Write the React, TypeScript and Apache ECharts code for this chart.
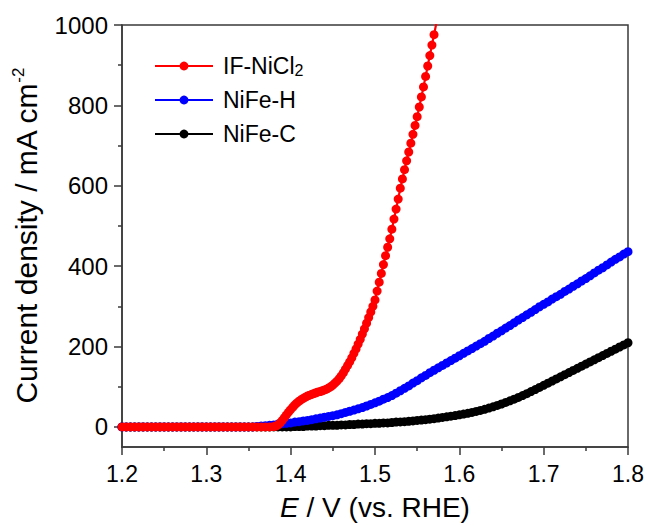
import React, { useEffect, useRef } from "react";
import * as echarts from "echarts";

const FONT = '"Liberation Sans", Arial, sans-serif';

// Potential sweep grid (V vs. RHE), 5 mV steps
const potential: number[] = Array.from({ length: 121 }, (_, i) => +(1.2 + i * 0.005).toFixed(3));

// NiFe-C current density (mA cm-2) on the potential grid
const nifeC: number[] = [
  0, 0, 0, 0, 0, 0, 0, 0, 0, 0,
  0, 0, 0, 0, 0, 0, 0, 0, 0, 0,
  0, 0, 0, 0, 0, 0, 0, 0, 0, 0,
  0, 0, 0, 0, 0, 0, 0, 0, 0, 0,
  0,
  1, 1, 1, 2, 2, 2, 3, 3, 4, 4,
  4, 5, 5, 6, 6, 7, 7, 8, 8, 9,
  9, 10, 10, 11, 12, 12.5, 13, 14, 15, 16,
  17, 18.1, 19.3, 20.6, 22, 23.5, 25, 26.6, 28.3, 30,
  31.8, 33.8, 36, 38.4, 41, 43.8, 46.8, 50, 53.4, 57,
  60.8, 64.8, 69, 73.4, 78, 82.8, 87.8, 92.9, 98.1, 103.4,
  108.7, 114, 119.3, 124.6, 129.9, 135.2, 140.5, 145.8, 151.1, 156.4,
  161.7, 167, 172.3, 177.6, 182.9, 188.2, 193.5, 198.8, 204.1, 209.4,
];

// NiFe-H current density (mA cm-2) on the potential grid
const nifeH: number[] = [
  0, 0, 0, 0, 0, 0, 0, 0, 0, 0,
  0, 0, 0, 0, 0, 0, 0, 0, 0, 0,
  0, 0, 0, 0, 0, 0, 0, 0, 0, 0,
  0, 0,
  1, 2, 3, 4, 5, 7, 8, 9, 10, 12,
  13, 15, 16, 18, 20, 22, 24, 26, 28, 30,
  33, 36, 39, 42, 45, 48, 52, 56, 60, 64,
  69, 73, 78, 84, 90, 96, 102, 109, 115, 122,
  128, 135, 141, 147, 153, 159, 165, 171, 177, 183,
  189, 195, 201, 207, 213, 220, 226, 233, 239, 246,
  252, 259, 266, 272, 279, 285, 292, 299, 305, 311,
  318, 324, 330, 337, 343, 350, 356, 363, 369, 376,
  383, 390, 396, 403, 410, 417, 423, 430, 436,
];

// IF-NiCl2 [potential, current density]
const ifNiCl2: number[][] = [
  [1.2, 0], [1.205, 0], [1.21, 0], [1.215, 0], [1.22, 0], [1.225, 0], [1.23, 0], [1.235, 0], [1.24, 0], [1.245, 0],
  [1.25, 0], [1.255, 0], [1.26, 0], [1.265, 0], [1.27, 0], [1.275, 0], [1.28, 0], [1.285, 0], [1.29, 0], [1.295, 0],
  [1.3, 0], [1.305, 0], [1.31, 0], [1.315, 0], [1.32, 0], [1.325, 0], [1.33, 0], [1.335, 0], [1.34, 0], [1.345, 0],
  [1.35, 0], [1.355, 0], [1.36, 0], [1.365, 0], [1.37, 0], [1.375, 0],
  [1.38, 1], [1.3825, 2], [1.385, 5], [1.3875, 10], [1.39, 16], [1.3925, 23], [1.395, 30], [1.3975, 37],
  [1.4, 43], [1.4025, 49], [1.405, 55], [1.4075, 60], [1.41, 64], [1.4125, 68], [1.415, 71], [1.4175, 74],
  [1.42, 77], [1.4225, 79], [1.425, 81], [1.4275, 83], [1.43, 85], [1.4325, 87], [1.435, 88], [1.4375, 90],
  [1.44, 92], [1.4425, 94], [1.445, 97], [1.4475, 100], [1.45, 104], [1.4525, 109], [1.455, 114], [1.4575, 120],
  [1.46, 127], [1.4625, 135], [1.465, 144], [1.4675, 153], [1.47, 162], [1.4725, 172], [1.475, 183], [1.4775, 194],
  [1.48, 206], [1.4825, 218], [1.485, 231], [1.4875, 244], [1.49, 258], [1.4925, 272], [1.495, 286], [1.4975, 300],
  [1.5, 316], [1.5025, 338], [1.505, 360], [1.5075, 382], [1.51, 404], [1.5125, 426], [1.515, 447], [1.5175, 468],
  [1.52, 492], [1.5225, 517], [1.525, 542], [1.5275, 567], [1.53, 594], [1.5325, 617], [1.535, 640], [1.5375, 662],
  [1.54, 684], [1.5425, 706], [1.545, 728], [1.5475, 750], [1.55, 772], [1.5525, 796], [1.555, 821], [1.5575, 846],
  [1.56, 872], [1.5625, 898], [1.565, 924], [1.5675, 950], [1.57, 976], [1.5725, 1002], [1.575, 1028],
];

const yMajorTicks = [0, 200, 400, 600, 800, 1000];
const yMinorTicks = [100, 300, 500, 700, 900];
const legendNames = ["IF-NiCl2", "NiFe-H", "NiFe-C"];

export default function App() {
  const ref = useRef<HTMLDivElement>(null);

  useEffect(() => {
    if (!ref.current) return;
    const chart = echarts.init(ref.current, null, { renderer: "svg" });
    const axisColor = "#3a3a3a";
    const seriesCommon = {
      type: "line",
      symbol: "circle",
      symbolSize: 9,
      showAllSymbol: true,
      clip: true,
      lineStyle: { width: 2.2 },
    };
    chart.setOption({
      animation: false,
      backgroundColor: "#fff",
      grid: {
        left: 122,
        right: 21,
        top: 25,
        bottom: 75,
        show: true,
        borderColor: axisColor,
        borderWidth: 1.5,
      },
      legend: {
        data: legendNames,
        orient: "vertical",
        left: 154,
        top: 54,
        padding: 0,
        itemWidth: 58,
        itemHeight: 11,
        itemGap: 10,
        formatter: (n: string) => (n === "IF-NiCl2" ? "IF-NiCl{sub|2}" : n),
        textStyle: {
          fontSize: 23,
          fontFamily: FONT,
          color: "#000",
          lineHeight: 24,
          padding: [0, 0, 0, 5],
          rich: {
            sub: { fontSize: 16, fontFamily: FONT, color: "#000", verticalAlign: "bottom", lineHeight: 21 },
          },
        },
      },
      xAxis: [
        {
          type: "value",
          min: 1.2,
          max: 1.8,
          interval: 0.1,
          axisLine: { show: true, onZero: false, lineStyle: { color: axisColor, width: 1.5 } },
          axisTick: { show: true, inside: false, length: 8, lineStyle: { color: axisColor, width: 1.5 } },
          minorTick: { show: true, splitNumber: 2, length: 4, lineStyle: { color: axisColor, width: 1.5 } },
          splitLine: { show: false },
          minorSplitLine: { show: false },
          axisLabel: {
            fontSize: 23,
            fontFamily: FONT,
            color: "#000",
            margin: 15,
            formatter: (v: number) => v.toFixed(1),
          },
          name: "{i|E} / V (vs. RHE)",
          nameLocation: "middle",
          nameGap: 46,
          nameTextStyle: {
            fontSize: 28,
            fontFamily: FONT,
            color: "#000",
            rich: { i: { fontSize: 28, fontFamily: FONT, fontStyle: "italic", color: "#000" } },
          },
        },
      ],
      yAxis: [
        {
          type: "value",
          min: -50,
          max: 1000,
          axisLine: { show: true, onZero: false, lineStyle: { color: axisColor, width: 1.5 } },
          axisTick: { show: true, inside: false, length: 8, customValues: yMajorTicks, lineStyle: { color: axisColor, width: 1.5 } },
          splitLine: { show: false },
          axisLabel: {
            fontSize: 24,
            fontFamily: FONT,
            color: "#000",
            margin: 14,
            customValues: yMajorTicks,
            formatter: (v: number) => String(v),
          },
          name: "Current density / mA cm{sup|-2}",
          nameLocation: "middle",
          nameGap: 78,
          nameTextStyle: {
            fontSize: 30,
            fontFamily: FONT,
            color: "#000",
            lineHeight: 34,
            rich: { sup: { fontSize: 17, fontFamily: FONT, color: "#000", verticalAlign: "top", lineHeight: 34 } },
          },
        },
        {
          type: "value",
          min: -50,
          max: 1000,
          position: "left",
          offset: 0,
          axisLine: { show: false },
          axisTick: { show: true, inside: false, length: 4, customValues: yMinorTicks, lineStyle: { color: axisColor, width: 1.5 } },
          splitLine: { show: false },
          axisLabel: { show: false },
        },
      ],
      series: [
        { ...seriesCommon, name: "NiFe-C", color: "#000000", data: potential.map((v, i) => [v, nifeC[i]]) },
        { ...seriesCommon, name: "NiFe-H", color: "#0000ff", data: potential.map((v, i) => [v, nifeH[i]]) },
        { ...seriesCommon, name: "IF-NiCl2", color: "#ff0000", data: ifNiCl2 },
      ],
    });
    return () => chart.dispose();
  }, []);

  return <div ref={ref} style={{ position: "fixed", left: 0, top: 0, width: 649, height: 526 }} />;
}
